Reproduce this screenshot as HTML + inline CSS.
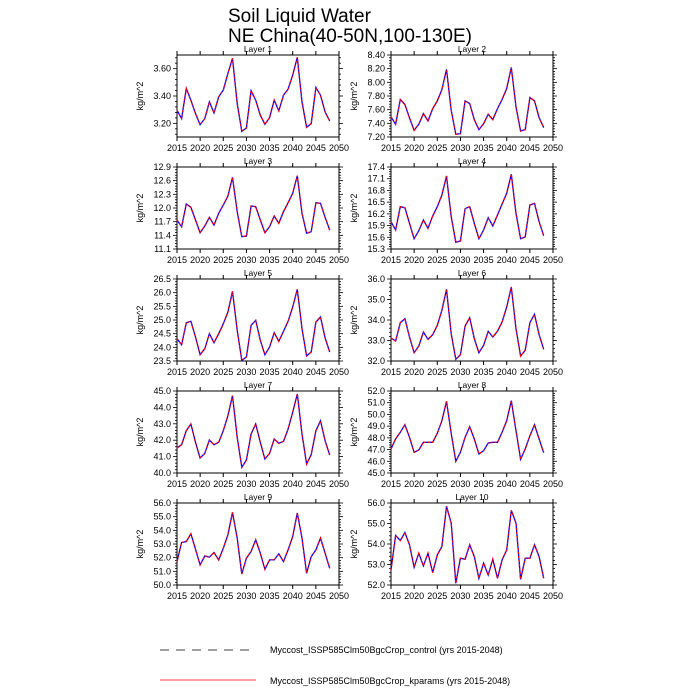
<!DOCTYPE html>
<html><head><meta charset="utf-8"><style>
body{margin:0;background:#fff;}
svg{display:block;font-family:"Liberation Sans",sans-serif;}
</style></head><body>
<svg id="s" width="700" height="700" xmlns="http://www.w3.org/2000/svg">
<text x="228" y="22" font-size="19">Soil Liquid Water</text>
<text x="228" y="42" font-size="19">NE China(40-50N,100-130E)</text>
<line x1="160" y1="650" x2="256" y2="650" stroke="#000" stroke-width="0.8" stroke-dasharray="9,7"/>
<text x="270" y="653" font-size="9">Myccost_ISSP585Clm50BgcCrop_control (yrs 2015-2048)</text>
<line x1="160" y1="680" x2="256" y2="680" stroke="#f00" stroke-width="0.8"/>
<text x="270" y="684" font-size="9">Myccost_ISSP585Clm50BgcCrop_kparams (yrs 2015-2048)</text>
</svg>
<script>
var P=[
{t:"Layer 1",lo:3.1,hi:3.7,st:0.2,f0:3.2,dp:2,top:165,bot:410,d:[330,355,265,300,340,373,355,305,338,290,270,220,175,310,393,383,272,300,345,372,352,300,332,285,267,225,172,305,381,370,262,285,335,362]},
{t:"Layer 2",lo:7.2,hi:8.4,st:0.2,f0:7.2,dp:2,top:45,bot:290,d:[230,252,178,193,233,270,252,220,242,205,182,148,88,210,282,280,182,190,238,268,250,222,238,205,178,145,82,200,272,268,172,182,232,262]},
{t:"Layer 3",lo:11.1,hi:12.9,st:0.3,f0:11.1,dp:1,top:21,bot:267,d:[180,200,132,142,180,218,198,172,195,160,135,108,52,155,230,228,138,140,180,218,200,168,190,155,128,100,47,160,220,215,128,130,172,210]},
{t:"Layer 4",lo:15.3,hi:17.4,st:0.3,f0:15.3,dp:1,top:21,bot:267,d:[185,210,140,143,190,236,212,180,205,168,140,105,48,170,247,243,146,140,190,236,210,173,198,165,132,100,43,160,236,231,135,130,185,227]},
{t:"Layer 5",lo:23.5,hi:26.5,st:0.5,f0:23.5,dp:1,top:21,bot:267,d:[200,218,152,148,195,248,230,185,212,185,155,120,58,175,265,255,160,145,205,248,225,182,208,178,148,105,52,170,252,240,150,135,198,240]},
{t:"Layer 6",lo:32,hi:36,st:1,f0:32,dp:1,top:21,bot:267,d:[198,207,152,140,195,242,222,180,202,188,160,115,52,185,262,248,162,137,200,242,220,178,195,178,150,105,45,170,252,235,152,127,188,232]},
{t:"Layer 7",lo:40,hi:45,st:1,f0:40,dp:1,top:21,bot:267,d:[192,182,140,120,175,222,208,168,182,175,140,95,35,160,250,228,150,120,175,225,208,165,178,172,135,85,30,150,240,212,140,110,170,213]},
{t:"Layer 8",lo:45,hi:52,st:1,f0:45,dp:1,top:21,bot:267,d:[195,165,145,122,160,205,198,175,175,175,148,110,52,148,232,205,160,128,165,210,200,177,175,175,145,110,50,140,226,195,155,122,165,206]},
{t:"Layer 9",lo:50,hi:56,st:1,f0:50,dp:1,top:40,bot:285,d:[215,158,155,132,178,225,198,202,188,210,175,135,68,145,252,205,185,150,190,238,210,210,192,215,180,140,70,145,250,200,180,145,190,235]},
{t:"Layer 10",lo:52,hi:56,st:1,f0:52,dp:1,top:40,bot:285,d:[240,137,152,128,165,232,190,228,190,248,195,170,50,100,280,205,208,165,200,265,220,255,208,265,210,180,62,100,268,205,205,165,200,265]}
];
var s=document.getElementById('s'),h='';
function L(a,b,c,d,e){return '<line x1="'+a+'" y1="'+b+'" x2="'+c+'" y2="'+d+'" stroke="#000" stroke-width="'+(e||1)+'"/>';}
P.forEach(function(p,i){
 var col=i%2,row=Math.floor(i/2);
 var x0=col?391:177,x1=x0+162,y0=55+112*row,y1=y0+82;
 var W=162,H=82;
 h+='<text x="'+(x0+81)+'" y="'+(y0-3)+'" font-size="8.5" text-anchor="middle">'+p.t+'</text>';
 h+='<rect x="'+x0+'" y="'+y0+'" width="'+W+'" height="'+H+'" fill="none" stroke="#000" stroke-width="1"/>';
 for(var yr=2015;yr<=2050;yr+=5){
  var x=x0+(yr-2015)*W/35;
  h+=L(x,y1,x,y1+4)+L(x,y0,x,y0-4);
  h+='<text x="'+x+'" y="'+(y1+14)+'" font-size="9" text-anchor="middle">'+yr+'</text>';
 }
 var range=p.hi-p.lo,ms=p.st/5;
 for(var k=-10;k<200;k++){var v=p.f0+k*ms;if(v<p.lo-1e-9)continue;if(v>p.hi+1e-9)break;var y=y1-(v-p.lo)/range*H;
  var maj=(k%5==0);
  var l=maj?4:2;
  h+=L(x0,y,x0-l,y,0.8)+L(x1,y,x1+l,y,0.8);
  if(maj)h+='<text x="'+(x0-6)+'" y="'+(y+3)+'" font-size="9" text-anchor="end">'+v.toFixed(p.dp)+'</text>';
 }
 h+='<text transform="translate('+(x0-34)+','+(y0+41)+') rotate(-90)" font-size="9" text-anchor="middle">kg/m^2</text>';
 var pts=p.d.map(function(v,j){return (x0+j*W/35).toFixed(1)+','+(y0+(v-p.top)/(p.bot-p.top)*H).toFixed(1);}).join(' ');
 h+='<polyline points="'+pts+'" fill="none" stroke="#00f" stroke-width="1.3"/>';
 h+='<polyline points="'+pts+'" fill="none" stroke="#f00" stroke-width="1.3" stroke-dasharray="2,2"/>';
});
s.insertAdjacentHTML('beforeend',h);
</script>
</body></html>
